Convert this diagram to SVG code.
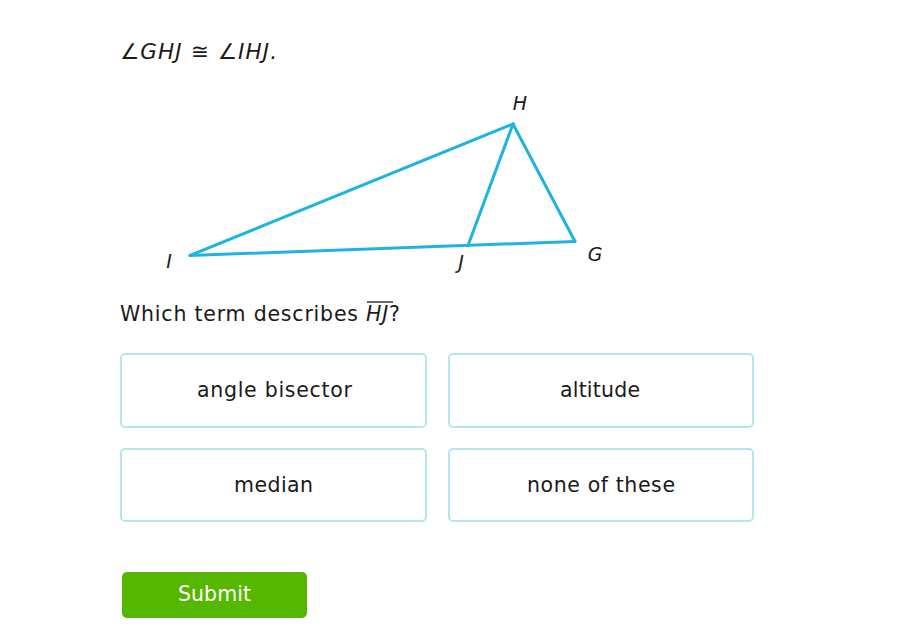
<svg xmlns="http://www.w3.org/2000/svg" width="924" height="641" viewBox="0 0 924 641">
<style>
.t{font-family:"DejaVu Sans",Verdana,sans-serif;font-size:20.5px;fill:#1a1a1a}
.i{font-style:italic}
.lbl{font-family:"DejaVu Sans",Verdana,sans-serif;font-size:19px;font-style:italic;fill:#1a1a1a;text-anchor:middle}
.seg{stroke:#1fb3e3;stroke-width:3;stroke-linecap:round;fill:none}
.box{fill:#fff;stroke:#b5e6ee;stroke-width:2}
.opt{font-family:"DejaVu Sans",Verdana,sans-serif;font-size:20.5px;fill:#1a1a1a}
</style>
<rect width="924" height="641" fill="#fff"/>
<g id="prompt">
<text class="t i" x="120" y="59" style="font-size:21.5px" textLength="157" lengthAdjust="spacing">∠GHJ ≅ ∠IHJ.</text>
</g>
<g id="connectors">
<line class="seg" x1="190" y1="255.5" x2="513" y2="124"/>
<line class="seg" x1="513" y1="124" x2="575" y2="241.5"/>
<line class="seg" x1="575" y1="241.5" x2="190" y2="255.5"/>
<line class="seg" x1="513" y1="124" x2="468" y2="245.5"/>
</g>
<g id="node-H"><text class="lbl" x="520" y="110">H</text></g>
<g id="node-I"><text class="lbl" x="169" y="268">I</text></g>
<g id="node-J"><text class="lbl" x="461" y="269">J</text></g>
<g id="node-G"><text class="lbl" x="595" y="261">G</text></g>
<g id="question">
<text class="t" x="120" y="321" textLength="280" lengthAdjust="spacing">Which term describes <tspan class="i">HJ</tspan>?</text>
<line x1="367" y1="302" x2="393" y2="302" stroke="#1a1a1a" stroke-width="1.3"/>
</g>
<g id="opt1"><rect class="box" x="121" y="354" width="305" height="73" rx="4"/><text class="opt" x="197" y="397" textLength="155" lengthAdjust="spacing">angle bisector</text></g>
<g id="opt2"><rect class="box" x="449" y="354" width="304" height="73" rx="4"/><text class="opt" x="560" y="397" textLength="80" lengthAdjust="spacing">altitude</text></g>
<g id="opt3"><rect class="box" x="121" y="449" width="305" height="72" rx="4"/><text class="opt" x="234" y="492" textLength="79" lengthAdjust="spacing">median</text></g>
<g id="opt4"><rect class="box" x="449" y="449" width="304" height="72" rx="4"/><text class="opt" x="527" y="492" textLength="148" lengthAdjust="spacing">none of these</text></g>
<g id="submit"><rect x="122" y="572" width="185" height="46" rx="5" fill="#55b700"/><text class="opt" x="178" y="601" textLength="73" lengthAdjust="spacing" style="fill:#fff">Submit</text></g>
</svg>
